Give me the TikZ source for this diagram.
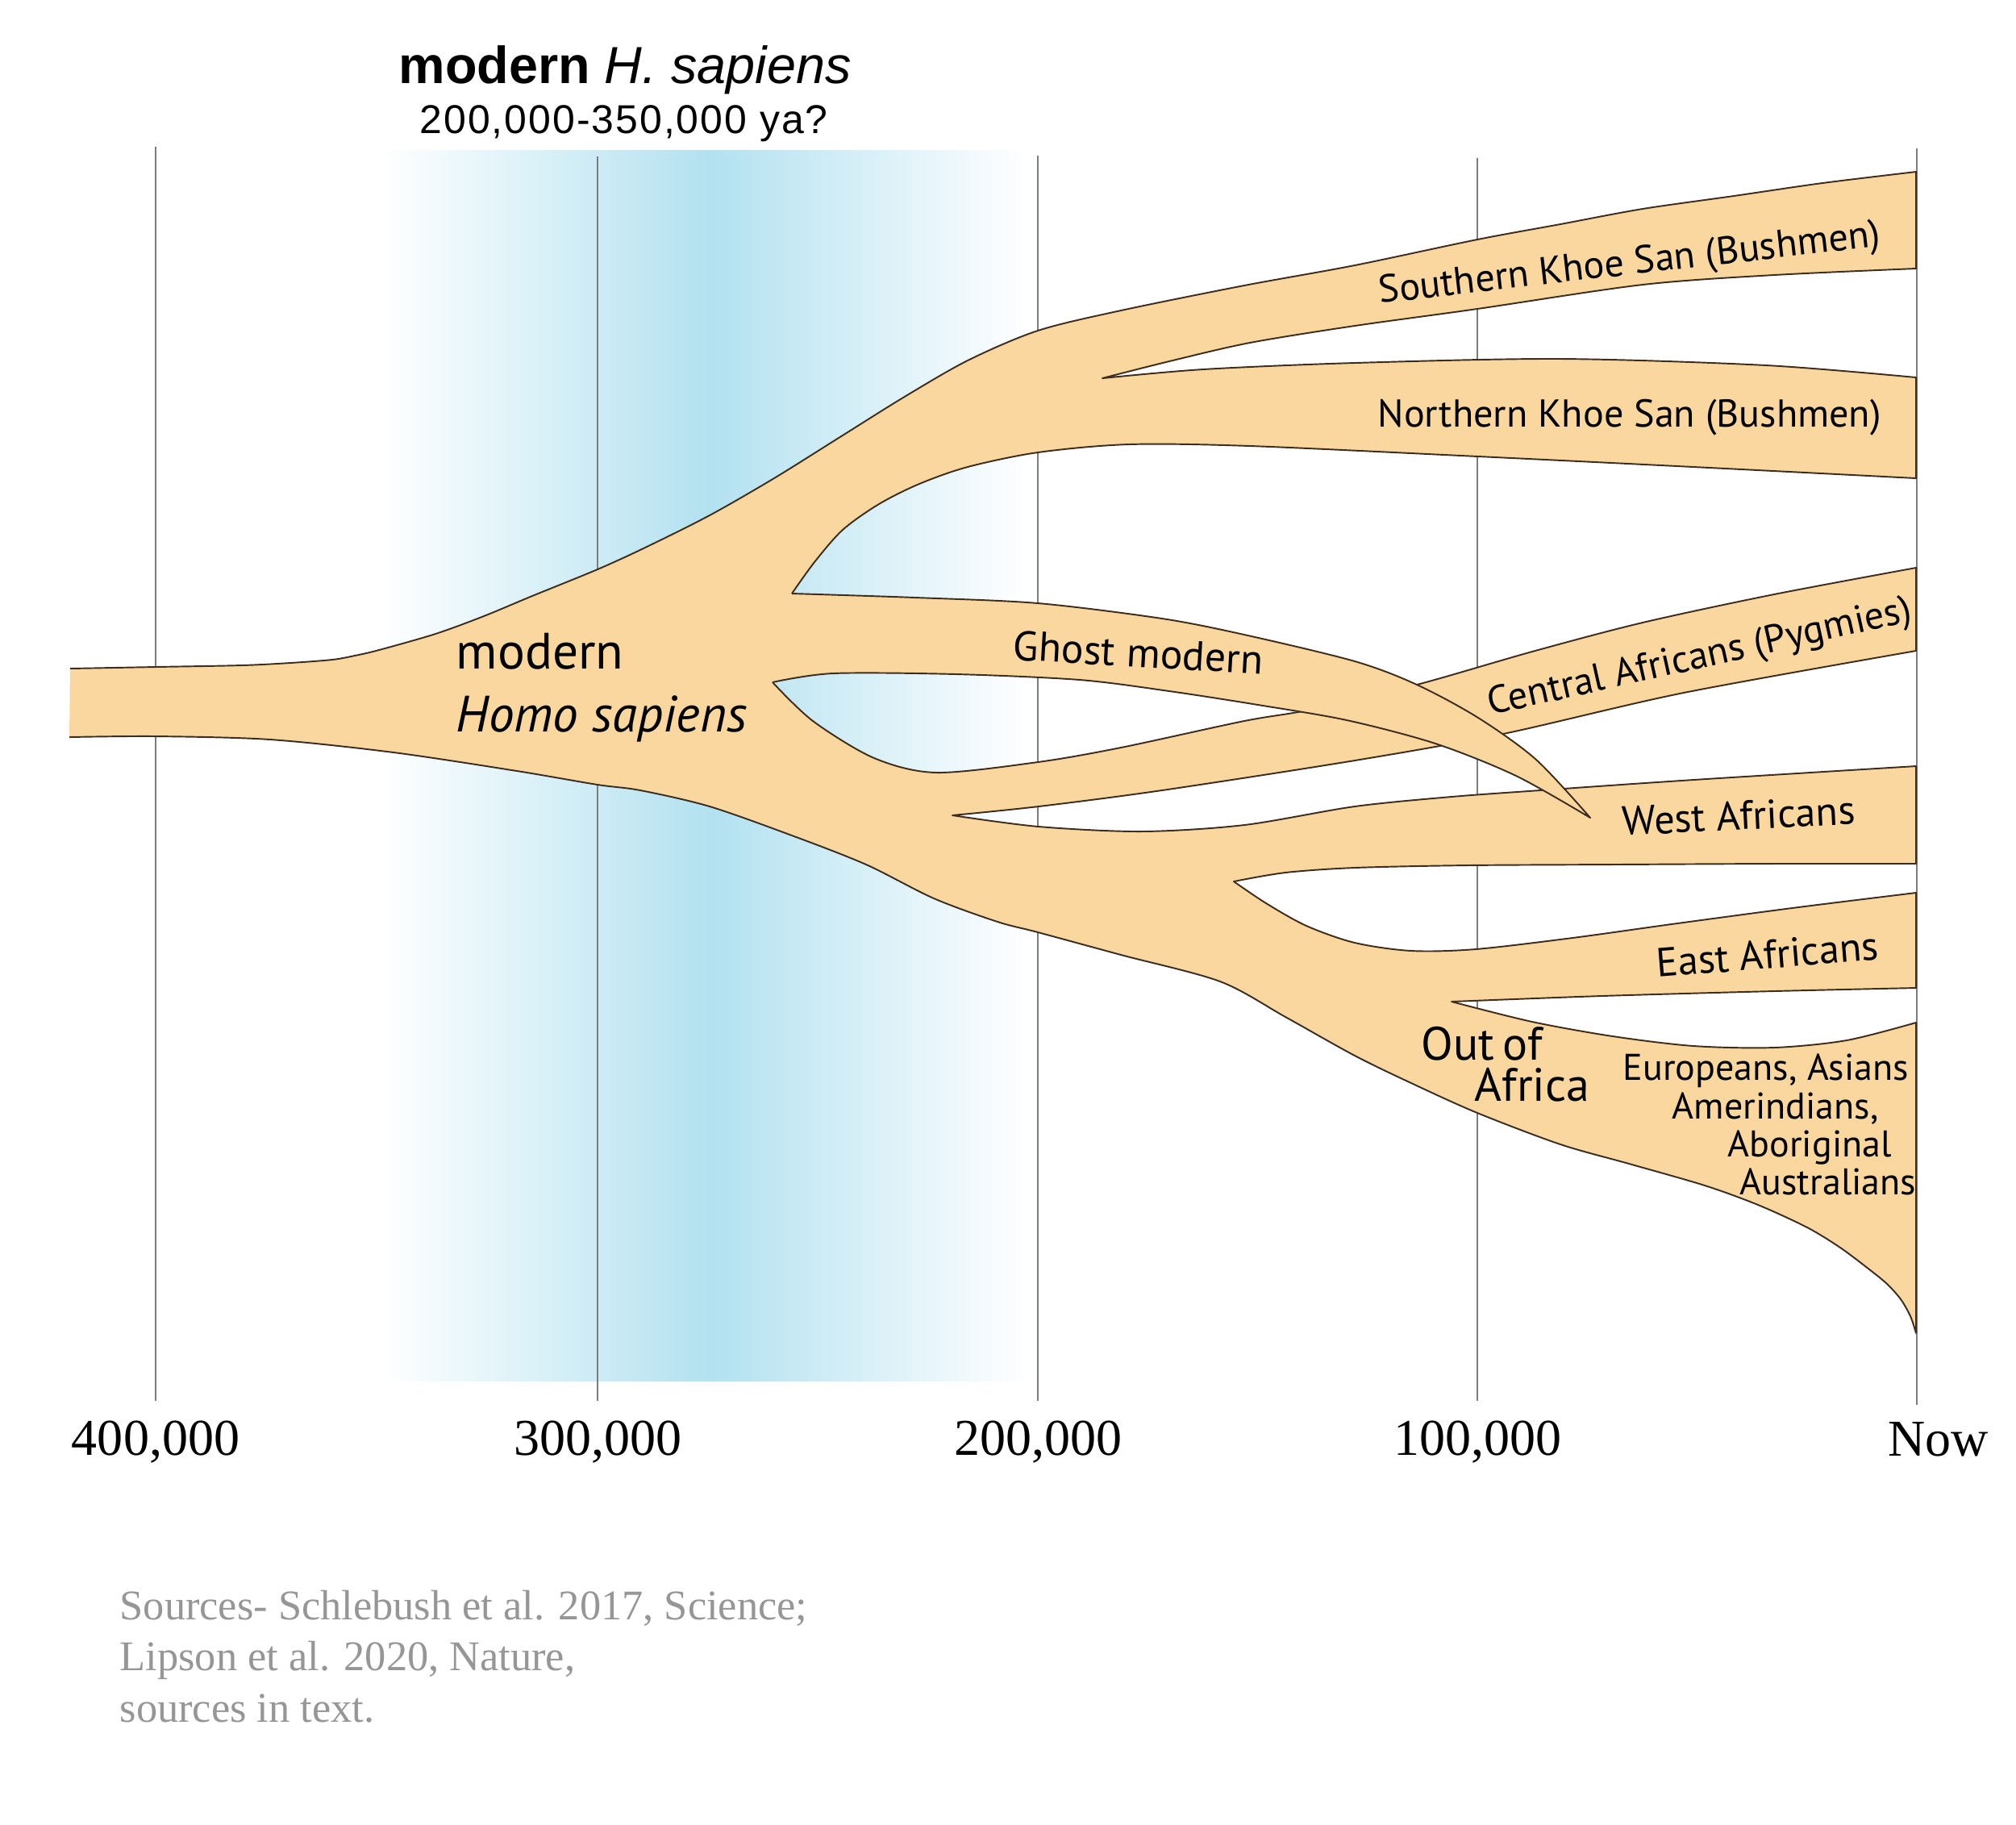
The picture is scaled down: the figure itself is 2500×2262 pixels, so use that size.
\documentclass[tikz,border=0pt]{standalone}
\usepackage{fontspec}
\setmainfont{Liberation Serif}
\newfontfamily\arialf{Liberation Sans}
\newfontfamily\arialsp[LetterSpace=4]{Liberation Sans}
\newfontfamily\myriadf{PT Sans}
\definecolor{ochre}{RGB}{250,215,158}
\definecolor{edgec}{RGB}{60,45,30}
\definecolor{sky}{RGB}{178,225,240}
\definecolor{gridgray}{RGB}{125,125,125}
\definecolor{srcgray}{RGB}{150,150,150}
\tikzset{
  edgeline/.style={draw=edgec, line width=0.55pt, line join=round},
  gridline/.style={draw=gridgray, line width=0.7pt},
  lab/.style={inner sep=0pt, font=\myriadf\fontsize{13.7}{16}\selectfont},
  midlab/.style={inner sep=0pt, font=\myriadf\fontsize{14.3}{16}\selectfont},
  smlab/.style={inner sep=0pt, font=\myriadf\fontsize{13.1}{15}\selectfont},
  biglab/.style={inner sep=0pt, font=\myriadf\fontsize{18}{20}\selectfont},
  ooalab/.style={inner sep=0pt, font=\myriadf\fontsize{16.5}{18}\selectfont},
  axlab/.style={inner sep=0pt, font=\fontsize{18.2}{20}\selectfont},
  srclab/.style={inner sep=0pt, text=srcgray, font=\fontsize{14.9}{17}\selectfont},
}
% path pieces
\def\pTT{-- plot[smooth] coordinates {(87,829)(193,827)(300,825)(360,822)(412,818)(440,813)(470,806)(540,786)(600,764)(660,739)(741,706)(800,679)(880,639)(960,593)(1040,543)(1120,493)(1200,447)(1287,410)(1390,385)(1543,354)(1680,329)(1832,297)(1935,278)(2037,259)(2150,243)(2260,227)(2376,213)}}
\def\pSKSlow{-- plot[smooth] coordinates {(2376,333)(2200,341)(2037,353)(1832,383)(1680,404)(1550,425)(1450,448)(1367,469)}}
\def\pNKStop{-- plot[smooth] coordinates {(1367,469)(1492,458)(1680,450)(1935,445)(2190,453)(2376,468)}}
\def\pNKSbot{-- plot[smooth] coordinates {(2376,593)(2100,579)(1833,566)(1550,553)(1400,551)(1287,561)(1200,579)(1140,600)(1090,625)(1045,657)(1010,697)(982,736)}}
\def\pCAtop{-- plot[smooth] coordinates {(958,846)(1008,894)(1084,940)(1161,958)(1287,945)(1390,927)(1543,894)(1625,880)(1757,849)(1900,808)(2037,772)(2200,737)(2376,704)}}
\def\pCAbot{-- plot[smooth] coordinates {(2376,807)(2088,859)(1864,910)(1680,943)(1441,980)(1288,1000)(1181,1011)}}
\def\pWAtop{-- plot[smooth] coordinates {(1181,1011)(1288,1025)(1416,1031)(1543,1023)(1680,1000)(1800,988)(1910,980)(2100,967)(2376,950)}}
\def\pWAbot{-- plot[smooth] coordinates {(2376,1071)(2200,1071)(2000,1072)(1820,1073)(1680,1076)(1594,1082)(1530,1093)}}
\def\pEAtop{-- plot[smooth] coordinates {(1530,1093)(1570,1120)(1620,1148)(1680,1169)(1750,1179)(1830,1177)(1950,1163)(2080,1145)(2230,1125)(2376,1107)}}
\def\pEAbot{-- plot[smooth] coordinates {(2376,1225)(2200,1229)(1986,1235)(1800,1242)}}
\def\pOOAtop{-- plot[smooth] coordinates {(1800,1242)(1900,1267)(2000,1285)(2100,1297)(2200,1299)(2290,1290)(2376,1268)}}
\def\pOOAbot{-- plot[smooth] coordinates {(2376,1653)(2369,1632)(2357,1611)(2340,1592)(2318,1574)(2282,1547)(2241,1522)(2180,1494)(2114,1470)(2020,1443)(1935,1419)(1832,1380)(1750,1343)(1680,1309)(1594,1261)(1513,1217)(1390,1184)(1287,1156)(1237,1143)(1158,1114)(1074,1072)(982,1036)(880,1000)(794,980)(741,973)(641,956)(488,933)(335,917)(193,913)(86,914)}}
\def\pGtop{-- plot[smooth] coordinates {(982,736)(1135,741)(1287,748)(1441,767)(1543,787)(1680,820)(1757,849)(1833,890)(1905,942)(1972,1014)}}
\def\pGbot{-- plot[smooth] coordinates {(1972,1014)(1880,962)(1780,922)(1670,893)(1560,874)(1450,857)(1339,843)(1186,836)(1033,835)(958,846)}}
\begin{document}
\begin{tikzpicture}[x=0.01cm, y=-0.01cm]
\useasboundingbox (0,0) rectangle (2500,2262);
% blue band
\shade[left color=white, right color=sky] (472,186) rectangle (881,1712);
\shade[left color=sky, right color=white] (880,186) rectangle (1275,1712);
% time lines
\draw[gridline] (193,182) -- (193,1737);
\draw[gridline] (741,194) -- (741,1737);
\draw[gridline] (1287,193) -- (1287,1737);
\draw[gridline] (1832,196) -- (1832,1737);
\draw[gridline] (2377,184) -- (2377,1742);
% main body
\fill[ochre] (87,829) \pTT \pSKSlow \pNKStop \pNKSbot \pCAtop \pCAbot \pWAtop \pWAbot \pEAtop \pEAbot \pOOAtop \pOOAbot -- cycle;
\draw[edgeline] (87,829) \pTT \pSKSlow \pNKStop \pNKSbot;
\draw[edgeline] (958,846) \pCAtop \pCAbot \pWAtop \pWAbot \pEAtop \pEAbot \pOOAtop \pOOAbot;
% ghost branch on top
\fill[ochre] (930,790) -- (982,736) \pGtop \pGbot -- cycle;
\draw[edgeline] (982,736) \pGtop \pGbot;
% title
\node[inner sep=0pt, anchor=base west, font=\arialf\fontsize{18.4}{20}\selectfont] (title) at (494,103) {\textbf{modern} \textit{H. sapiens}};
\node[inner sep=0pt, anchor=base west, font=\arialsp\fontsize{14.2}{16}\selectfont] (subtitle) at (520,165) {200,000-350,000 ya?};
% branch labels
\node[biglab, anchor=base west] (mod) at (565,829) {modern};
\node[biglab, anchor=base west] (homo) at (565,907) {\itshape Homo sapiens};
\node[inner sep=0pt, font=\myriadf\fontsize{14.7}{16}\selectfont, anchor=base west, rotate=-3.3] (ghost) at (1255,818) {Ghost modern};
\node[lab, anchor=base west, rotate=6.5] (sks) at (1711,376) {Southern Khoe San (Bushmen)};
\node[lab, anchor=base west] (nks) at (1708,529) {Northern Khoe San (Bushmen)};
\node[lab, anchor=base west, rotate=12.6] (ca) at (1848,887) {Central Africans (Pygmies)};
\node[midlab, anchor=base west, rotate=2.8] (wa) at (2012,1036) {West Africans};
\node[midlab, anchor=base west, rotate=4.6] (ea) at (2055,1212) {East Africans};
\node[ooalab, anchor=base west] (ooa1) at (1762,1314) {\makebox[1.48cm][s]{Out of}};
\node[ooalab, anchor=base west] (ooa2) at (1828,1365) {Africa};
\node[smlab, anchor=base west] (eu1) at (2012,1339) {Europeans, Asians};
\node[smlab, anchor=base west] (eu2) at (2073,1387) {Amerindians,};
\node[smlab, anchor=base west] (eu3) at (2142,1434) {Aboriginal};
\node[smlab, anchor=base west] (eu4) at (2157,1481) {Australians};
% axis labels
\node[axlab, anchor=base] (t400) at (193,1804) {400,000};
\node[axlab, anchor=base] (t300) at (741,1804) {300,000};
\node[axlab, anchor=base] (t200) at (1287,1804) {200,000};
\node[axlab, anchor=base] (t100) at (1832,1804) {100,000};
\node[axlab, anchor=base west] (tnow) at (2341,1805) {Now};
% sources
\node[srclab, anchor=base west] (src1) at (148,2008) {Sources- Schlebush et al. 2017, Science;};
\node[srclab, anchor=base west] (src2) at (148,2071) {Lipson et al. 2020, Nature,};
\node[srclab, anchor=base west] (src3) at (148,2135) {sources in text.};
\end{tikzpicture}
\end{document}
